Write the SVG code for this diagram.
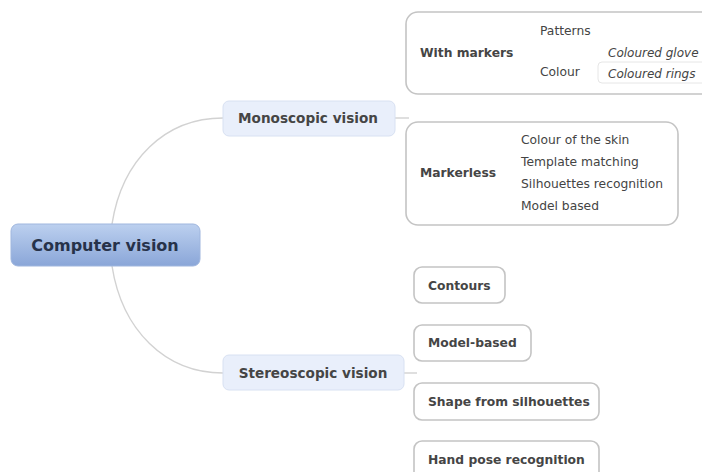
<svg xmlns="http://www.w3.org/2000/svg" width="702" height="472" viewBox="0 0 702 472">
<defs>
<linearGradient id="gRoot" x1="0" y1="0" x2="0" y2="1">
<stop offset="0" stop-color="#bcd0ef"/>
<stop offset="1" stop-color="#8aa6d8"/>
</linearGradient>
<style>
text{font-family:"DejaVu Sans","Liberation Sans",sans-serif;fill:#3e3e3e;dominant-baseline:central}
.root{font-size:16px;font-weight:bold;fill:#27324a}
.main{font-size:13.6px;font-weight:bold;fill:#454545}
.sub{font-size:12.3px;font-weight:bold;fill:#454545}
.leaf{font-size:12.3px;fill:#444}
.it{font-size:12px;font-style:italic;fill:#444}
.mainbox{fill:#e9effb;stroke:#d8e1f2;stroke-width:1}
.box{fill:#fff;stroke:#c4c4c4;stroke-width:1.6}
.con{fill:none;stroke:#d2d2d2;stroke-width:1.4}
.br{fill:none;stroke:#d8d8d8;stroke-width:1}
</style>
</defs>
<rect width="702" height="472" fill="#fff"/>
<g id="connectors">
<path class="con" d="M112,224 C122,160 165,118 223,118"/>
<path class="con" d="M112,266 C122,330 165,373 223,373"/>
<path class="con" d="M395,118 H409"/>
<path class="con" d="M404,373 H417"/>
<path class="br" d="M527,53 H533 M539,32 Q533,32 533,38 V67 Q533,73 539,73"/>
<path class="br" d="M590,73 H597 M603,62 Q597,62 597,66 V73"/>
<path class="br" d="M509,173 H513 M519,140 Q513,140 513,145 V201 Q513,206 519,206 M513,163 H519 M513,184 H519"/>
</g>
<g id="computer-vision">
<rect x="11" y="224" width="189" height="42" rx="7" fill="url(#gRoot)" stroke="#9fb6de" stroke-width="1"/>
<text class="root" x="105" y="245" text-anchor="middle">Computer vision</text>
</g>
<g id="monoscopic-vision">
<rect class="mainbox" x="223" y="101" width="172" height="35" rx="6"/>
<text class="main" x="308" y="118" text-anchor="middle">Monoscopic vision</text>
</g>
<g id="stereoscopic-vision">
<rect class="mainbox" x="223" y="355" width="181" height="35" rx="6"/>
<text class="main" x="313" y="373" text-anchor="middle">Stereoscopic vision</text>
</g>
<g id="with-markers">
<rect class="box" x="406" y="12" width="310" height="82" rx="12"/>
<text class="sub" x="420" y="53">With markers</text>
<text class="leaf" x="540" y="31">Patterns</text>
<text class="leaf" x="540" y="72">Colour</text>
<text class="it" x="608" y="53">Coloured glove</text>
<rect x="598" y="62" width="120" height="21" rx="4" fill="#fff" stroke="#e6e6e6" stroke-width="1"/>
<text class="it" x="608" y="74">Coloured rings</text>
</g>
<g id="markerless">
<rect class="box" x="406" y="122" width="272" height="103" rx="12"/>
<text class="sub" x="420" y="173">Markerless</text>
<text class="leaf" x="521" y="140">Colour of the skin</text>
<text class="leaf" x="521" y="162">Template matching</text>
<text class="leaf" x="521" y="184">Silhouettes recognition</text>
<text class="leaf" x="521" y="206">Model based</text>
</g>
<g id="contours">
<rect class="box" x="414" y="267" width="91" height="36" rx="8"/>
<text class="sub" x="428" y="286">Contours</text>
</g>
<g id="model-based">
<rect class="box" x="414" y="325" width="117" height="36" rx="8"/>
<text class="sub" x="428" y="343">Model-based</text>
</g>
<g id="shape-from-silhouettes">
<rect class="box" x="414" y="383" width="185" height="37" rx="8"/>
<text class="sub" x="428" y="402">Shape from silhouettes</text>
</g>
<g id="hand-pose-recognition">
<rect class="box" x="414" y="441" width="185" height="40" rx="8"/>
<text class="sub" x="428" y="460">Hand pose recognition</text>
</g>
</svg>
